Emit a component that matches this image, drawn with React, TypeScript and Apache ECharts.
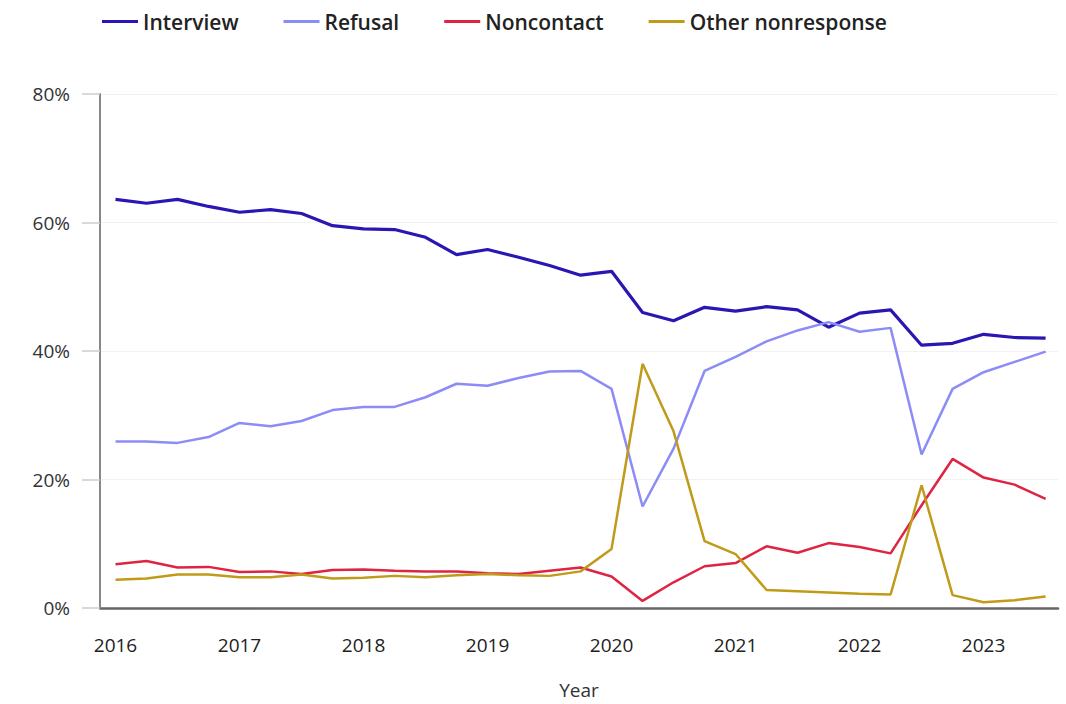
import React, { useEffect, useRef } from "react";
import * as echarts from "echarts";

const quarters = [
  2016, 2016.25, 2016.5, 2016.75,
  2017, 2017.25, 2017.5, 2017.75,
  2018, 2018.25, 2018.5, 2018.75,
  2019, 2019.25, 2019.5, 2019.75,
  2020, 2020.25, 2020.5, 2020.75,
  2021, 2021.25, 2021.5, 2021.75,
  2022, 2022.25, 2022.5, 2022.75,
  2023, 2023.25, 2023.5,
];

const yearTicks = [2016, 2017, 2018, 2019, 2020, 2021, 2022, 2023];

const interview = [
  63.6, 63.0, 63.6, 62.5, 61.6, 62.0, 61.4, 59.5, 59.0, 58.9, 57.7, 55.0,
  55.8, 54.6, 53.3, 51.8, 52.4, 46.0, 44.7, 46.8, 46.2, 46.9, 46.4, 43.7,
  45.9, 46.4, 40.9, 41.2, 42.6, 42.1, 42.0,
];

const refusal = [
  25.9, 25.9, 25.7, 26.6, 28.8, 28.3, 29.1, 30.8, 31.3, 31.3, 32.8, 34.9,
  34.6, 35.8, 36.8, 36.9, 34.1, 15.8, 24.8, 36.9, 39.1, 41.5, 43.2, 44.5,
  43.0, 43.6, 23.9, 34.1, 36.7, 38.3, 39.9,
];

const noncontact = [
  6.8, 7.3, 6.3, 6.4, 5.6, 5.7, 5.3, 5.9, 6.0, 5.8, 5.7, 5.7,
  5.4, 5.3, 5.8, 6.3, 4.9, 1.1, 4.0, 6.5, 7.0, 9.6, 8.6, 10.1,
  9.5, 8.5, 16.0, 23.2, 20.3, 19.2, 17.0,
];

const otherNonresponse = [
  4.4, 4.6, 5.2, 5.2, 4.8, 4.8, 5.2, 4.6, 4.7, 5.0, 4.8, 5.1,
  5.3, 5.1, 5.0, 5.7, 9.2, 38.0, 27.5, 10.4, 8.4, 2.8, 2.6, 2.4,
  2.2, 2.1, 19.1, 2.0, 0.9, 1.2, 1.8,
];

const seriesDefs = [
  { name: "Interview", data: interview, color: "#2a17b3", width: 3.2 },
  { name: "Refusal", data: refusal, color: "#8c8cf7", width: 2.5 },
  { name: "Noncontact", data: noncontact, color: "#df2443", width: 2.5 },
  { name: "Other nonresponse", data: otherNonresponse, color: "#c09b1a", width: 2.5 },
];

export default function App() {
  const ref = useRef<HTMLDivElement>(null);

  useEffect(() => {
    if (!ref.current) return;
    const chart = echarts.init(ref.current, undefined, { renderer: "svg" });
    const font = "'Open Sans', 'Noto Sans', sans-serif";
    chart.setOption({
      animation: false,
      backgroundColor: "#ffffff",
      textStyle: { fontFamily: font },
      legend: {
        top: 6,
        left: 97,
        itemWidth: 36,
        itemHeight: 3,
        itemGap: 45,
        icon: "rect",
        textStyle: { fontSize: 21, fontWeight: 600, color: "#222", fontFamily: font },
        data: seriesDefs.map((s) => s.name),
      },
      grid: { left: 100, right: 8, top: 94, bottom: 88, containLabel: false },
      xAxis: {
        type: "value",
        min: 2015.875,
        max: 2023.6,
        name: "Year",
        nameLocation: "middle",
        nameGap: 72,
        nameTextStyle: { fontSize: 19, color: "#333", fontFamily: font },
        axisLine: { show: true, lineStyle: { color: "#666", width: 2.5 } },
        axisTick: { show: false },
        splitLine: { show: false },
        axisLabel: {
          customValues: yearTicks,
          formatter: (v: number) => String(Math.round(v)),
          fontSize: 19,
          color: "#222",
          margin: 27,
          fontFamily: font,
        },
      },
      yAxis: {
        type: "value",
        min: 0,
        max: 80,
        interval: 20,
        axisLine: { show: true, lineStyle: { color: "#888", width: 2 } },
        axisTick: { show: true, length: 18, lineStyle: { color: "#cccccc", width: 1.5 } },
        splitLine: { show: true, lineStyle: { color: "#f2f2f2", width: 1 } },
        axisLabel: {
          formatter: "{value}%",
          fontSize: 19,
          color: "#333",
          margin: 30,
          fontFamily: font,
        },
      },
      series: seriesDefs.map((s) => ({
        name: s.name,
        type: "line",
        data: quarters.map((q, i) => [q, s.data[i]]),
        showSymbol: false,
        symbol: "none",
        color: s.color,
        lineStyle: { color: s.color, width: s.width },
        itemStyle: { color: s.color },
      })),
    });
    return () => chart.dispose();
  }, []);

  return (
    <div
      ref={ref}
      style={{ position: "fixed", left: 0, top: 0, width: 1066, height: 704 }}
    />
  );
}
